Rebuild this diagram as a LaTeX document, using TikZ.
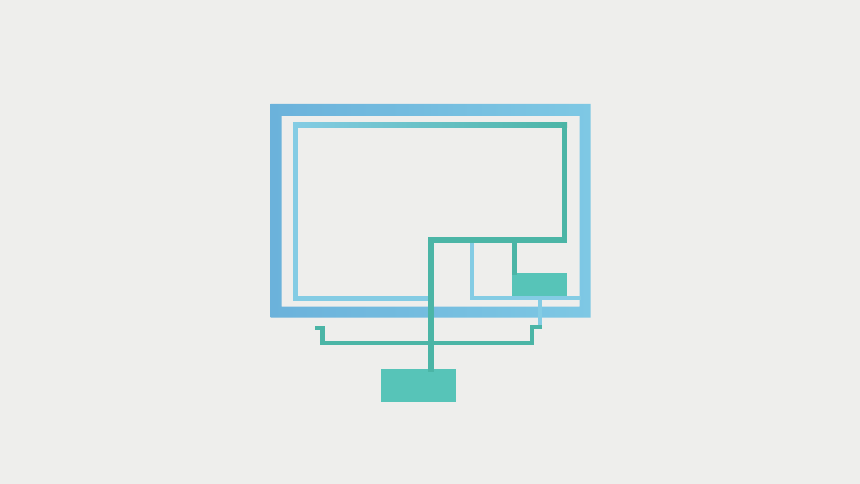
\documentclass[tikz,border=0pt]{standalone}
\usepackage{xcolor}
\usetikzlibrary{calc}
\definecolor{paper}{HTML}{EEEEEC}
\definecolor{frameblue}{HTML}{6BB2DB}
\definecolor{framelight}{HTML}{7EC8E4}
\definecolor{lightblue}{HTML}{84CCE4}
\definecolor{teal}{HTML}{4BB5A6}
\definecolor{boxteal}{HTML}{57C4B8}

\begin{document}
\begin{tikzpicture}[x=1pt,y=-1pt,every node/.style={draw=none,fill=boxteal,inner sep=0pt}]
\fill[paper] (0,0) rectangle (860,484);
\useasboundingbox (0,0) rectangle (860,484);
		
		\node[minimum width=55pt,minimum height=24pt] (chip) at (539.5,285){};
		\node[minimum width=75pt,minimum height=33pt] (base) at (418.5,385.5){};
\coordinate (tl) at (276,110);
\coordinate (br) at (585,312);
\coordinate (corner) at (431,240);
\coordinate (inr) at (564.5,240);
\coordinate (split) at (431,343);
\coordinate (lend) at (322.5,328);
\coordinate (rend) at (540,298);
\begin{scope}[line cap=rect]
%outer frame
\shade[even odd rule,left color=frameblue,right color=framelight] (270.5,104) rectangle (590.5,317.5) (281.5,116) rectangle (579.5,306.5);
%inner rectangle
\draw[lightblue,line width=5pt] (431,298) -- (295.5,298) -- (295.5,125);
\shade[left color=lightblue,right color=teal] (293,122.5) rectangle (567,127.5);
\draw[teal,line width=5pt] (564.5,125) -- (inr);
%small frame
\draw[lightblue,line width=4pt] (471.5,240) -- (471.5,298) -- (579,298);
%teal wiring
\draw[teal,line width=5.5pt] (inr) -- (corner) -- (base.north -| corner);
\draw[teal,line width=5pt] (514.5,240) -- (chip.north -| 514.5,0);
\draw[lightblue,line width=4pt] (rend) -- (540,326);
\draw[teal,line width=4.5pt] (540,327) -- (532,327) -- (532,343) -- (split) -- (322.5,343) -- (lend) -- (317,328);
\end{scope}
\end{tikzpicture}
\end{document}
